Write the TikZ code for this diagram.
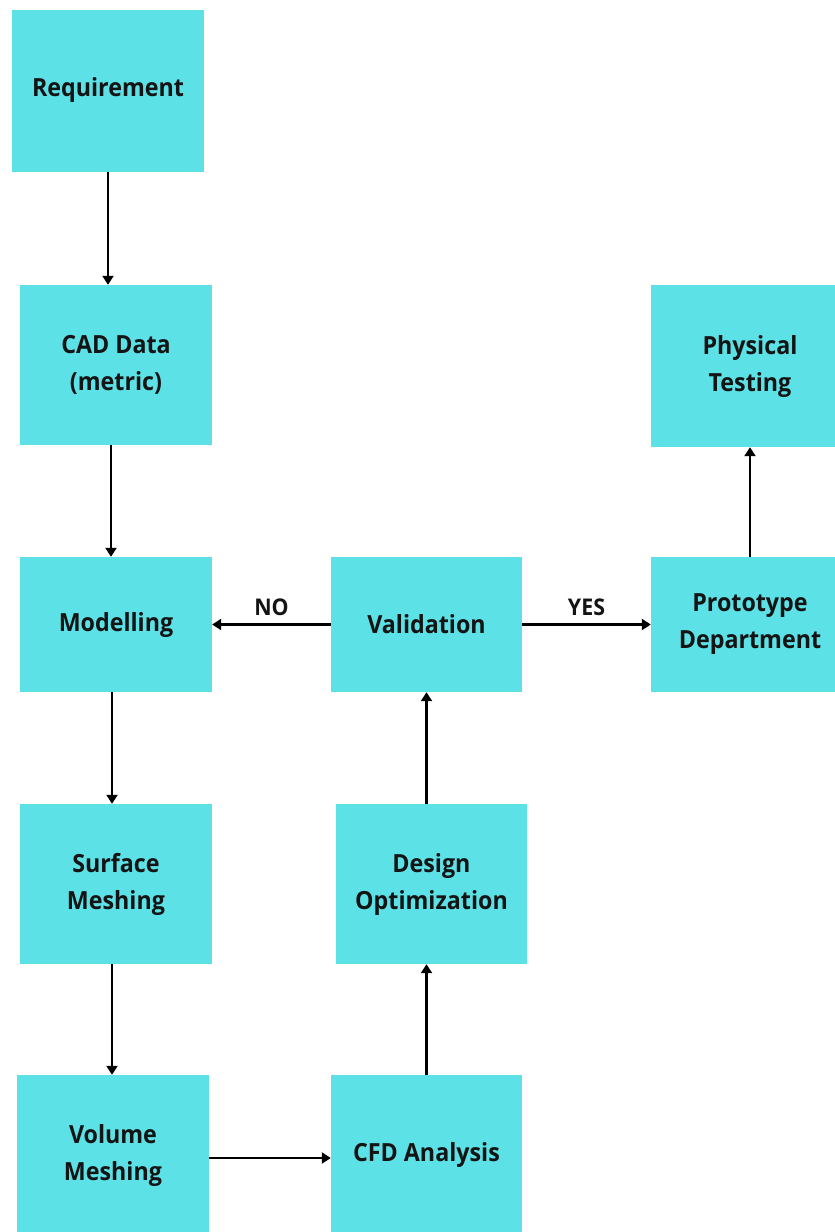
\documentclass[tikz,border=0pt]{standalone}
\usepackage{fontspec}
\setmainfont{Open Sans}
\newfontfamily\boxfont[FakeStretch=0.93]{Open Sans}
\usetikzlibrary{arrows.meta}
\definecolor{boxcyan}{HTML}{5CE1E6}
\tikzset{
  stepbox/.style={fill=boxcyan, draw=none, align=center, inner sep=0pt,
    font=\boxfont\fontsize{25}{37}\selectfont\bfseries, text=black!92},
  flow/.style={line width=2.4pt, -{Triangle[width=11pt,length=9pt]}},
  lbl/.style={font=\boxfont\fontsize{23}{26}\selectfont\bfseries, text=black!92}
}
\begin{document}
\begin{tikzpicture}[x=1pt,y=-1pt]
\useasboundingbox (0,0) rectangle (835,1232);
\clip (0,0) rectangle (835,1232);
\fill[white] (0,0) rectangle (835,1232);
\node[stepbox, minimum width=192pt, minimum height=162pt] (req) at (108,90.5) {Requirement};
\node[stepbox, minimum width=192pt, minimum height=160pt] (cad) at (116,365) {CAD Data\\(metric)};
\node[stepbox, minimum width=192pt, minimum height=135pt] (mod) at (116,624.5) {Modelling};
\node[stepbox, minimum width=192pt, minimum height=160pt] (surf) at (116,884) {Surface\\Meshing};
\node[stepbox, minimum width=192pt, minimum height=160pt] (vol) at (113,1155) {Volume\\Meshing};
\node[stepbox, minimum width=191pt, minimum height=160pt] (cfd) at (426.5,1155) {CFD Analysis};
\node[stepbox, minimum width=191pt, minimum height=160pt] (des) at (431.5,884) {Design\\Optimization};
\node[stepbox, minimum width=191pt, minimum height=135pt] (val) at (426.5,624.5) {Validation};
\node[stepbox, minimum width=198pt, minimum height=135pt] (pro) at (750,624.5) {Prototype\\Department};
\node[stepbox, minimum width=198pt, minimum height=162pt] (phy) at (750,366) {Physical\\Testing};

\draw[flow] (req.south) -- (req.south |- cad.north);
\draw[flow] ([xshift=-5pt]cad.south) -- ([xshift=-5pt]cad.south |- mod.north);
\draw[flow] ([xshift=-4pt]mod.south) -- ([xshift=-4pt]mod.south |- surf.north);
\draw[flow] ([xshift=-4pt]surf.south) -- ([xshift=-4pt]surf.south |- vol.north);
\draw[flow] ([yshift=-3pt]vol.east) -- ([yshift=-3pt]vol.east -| cfd.west);
\draw[flow] (cfd.north) -- (cfd.north |- des.south);
\draw[flow] (val.south |- des.north) -- (val.south);
\draw[flow] (val.west) -- node[lbl, above=4pt, pos=0.5] (no) {NO} (mod.east);
\draw[flow] (val.east) -- node[lbl, above=4pt, pos=0.5] (yes) {YES} (pro.west);
\draw[flow] (pro.north) -- (phy.south);
\end{tikzpicture}
\end{document}
